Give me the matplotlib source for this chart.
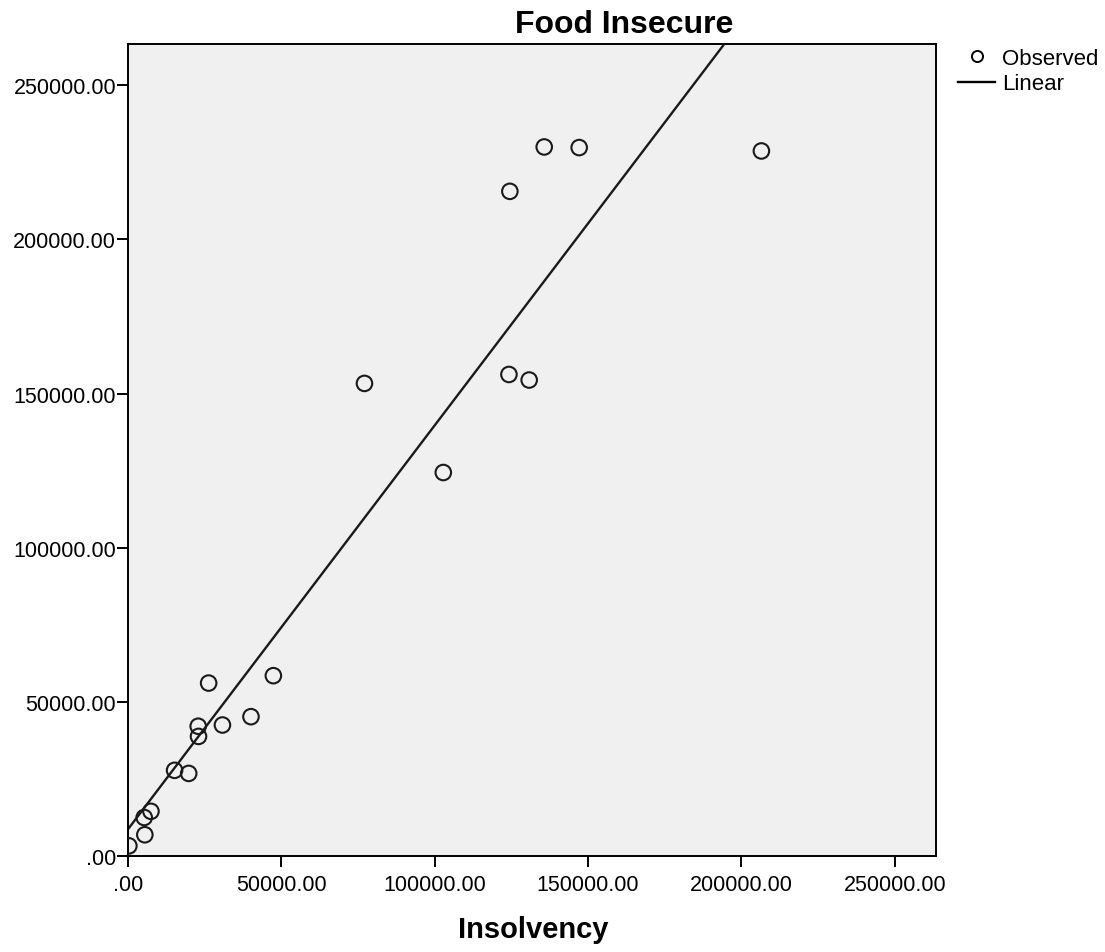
import numpy as np
import matplotlib
matplotlib.use("Agg")
import matplotlib.pyplot as plt
from matplotlib.lines import Line2D

plt.rcParams['font.family'] = ['Liberation Sans', 'DejaVu Sans']

insolvency = [135700, 147100, 206500, 124500, 77100, 124200, 130800, 102800,
              26300, 47400, 22900, 23000, 30800, 40100, 15200, 19800,
              7500, 5300, 5500, 300]
food_insecure = [230000, 229800, 228700, 215600, 153300, 156200, 154400, 124400,
                 56100, 58500, 42100, 38800, 42500, 45200, 27800, 26800,
                 14500, 12500, 6900, 3300]

tick_values = [0, 50000, 100000, 150000, 200000, 250000]
tick_labels = [".00", "50000.00", "100000.00", "150000.00", "200000.00", "250000.00"]
axis_max = 263400

x = np.array(insolvency, dtype=float)
y = np.array(food_insecure, dtype=float)
slope, intercept = np.polyfit(x, y, 1)

fig = plt.figure(figsize=(11.05, 9.53), dpi=100)
ax = fig.add_axes([0.1158, 0.1007, 0.7312, 0.8521])
ax.set_facecolor('#F0F0F0')

xs = np.array([0, axis_max])
ax.plot(xs, intercept + slope * xs, color='#1a1a1a', lw=1.7, zorder=2)
ax.scatter(x, y, s=125, facecolors='none', edgecolors='#1a1a1a', linewidths=1.5, zorder=3)

ax.set_xlim(0, axis_max)
ax.set_ylim(0, axis_max)
ax.set_xticks(tick_values)
ax.set_xticklabels(tick_labels)
ax.set_yticks(tick_values)
ax.set_yticklabels(tick_labels)
ax.tick_params(axis='both', direction='out', length=8, width=1.4, labelsize=15.5, colors='black')
ax.tick_params(axis='x', pad=5)
ax.tick_params(axis='y', pad=0.5)
for s in ax.spines.values():
    s.set_linewidth(1.4)
    s.set_color('black')

fig.text(0.565, 1 - 33 / 953, "Food Insecure", fontsize=23, fontweight='bold',
         ha='center', va='baseline')
fig.text(533 / 1105, 1 - 938 / 953, "Insolvency", fontsize=21, fontweight='bold',
         ha='center', va='baseline')

handles = [Line2D([], [], marker='o', ls='none', markerfacecolor='none', markeredgecolor='black',
                  markersize=8, markeredgewidth=1.4),
           Line2D([], [], color='black', lw=1.7)]
fig.legend(handles, ["Observed", "Linear"], loc='upper left', bbox_to_anchor=(0.859, 0.958),
           frameon=False, fontsize=16, handlelength=1.67, handletextpad=0.3, labelspacing=0.2,
           borderaxespad=0)

fig.savefig("out.png", dpi=100)
